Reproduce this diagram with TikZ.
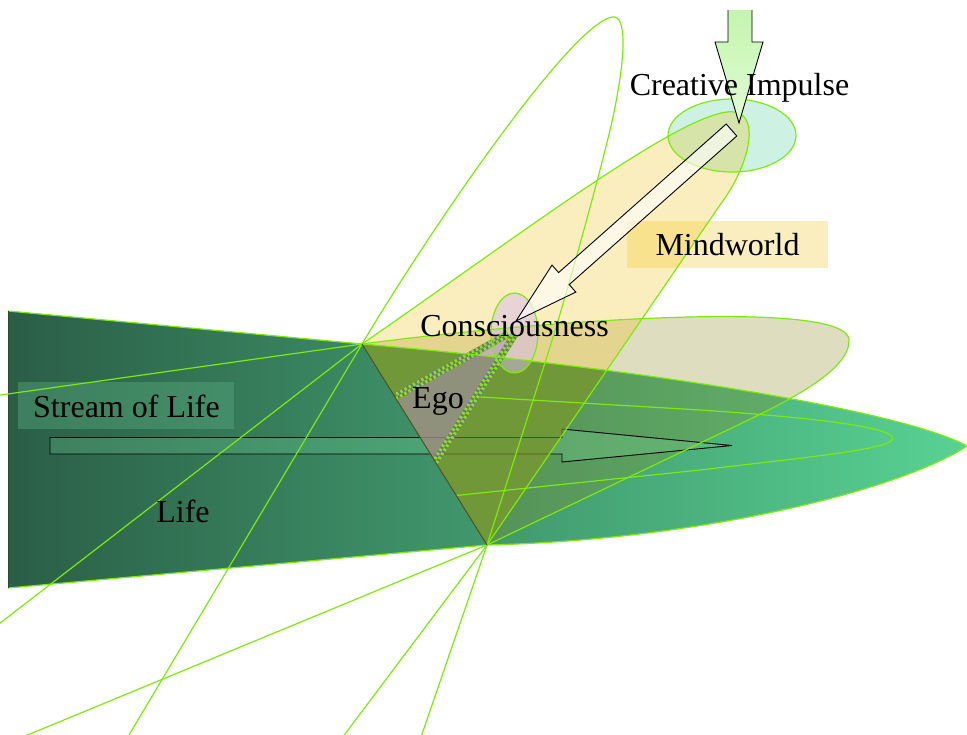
\documentclass[tikz,border=0pt]{standalone}
\usepackage{fontspec}
\setmainfont{Liberation Serif}
\newfontfamily\serf{Liberation Serif}
\definecolor{chart}{RGB}{125,235,10}
\definecolor{gdark}{RGB}{42,94,70}
\definecolor{glight}{RGB}{88,210,148}
\definecolor{gedge}{RGB}{35,75,55}
\definecolor{beigeC}{RGB}{141,134,30}
\definecolor{goldC}{RGB}{240,190,5}
\definecolor{oliveC}{RGB}{112,152,56}
\definecolor{aquaC}{RGB}{205,242,228}
\definecolor{lavC}{RGB}{213,186,240}
\definecolor{egoC}{RGB}{175,140,195}
\definecolor{egoLine}{RGB}{125,110,135}
\definecolor{darkol}{RGB}{85,80,25}
\definecolor{streamC}{RGB}{120,220,160}
\definecolor{streamBox}{RGB}{90,175,130}
\definecolor{dtop}{RGB}{195,245,175}
\definecolor{dbot}{RGB}{225,252,212}
\begin{document}
\begin{tikzpicture}[x=1pt,y=-1pt,
  cl/.style={draw=chart,line width=1.2pt},
  blk/.style={draw=black,line width=0.9pt},
  txt/.style={anchor=base,inner sep=0pt,font=\serf\fontsize{32}{38}\selectfont},
  dotline/.style={draw=chart,line width=3.2pt,dash pattern=on 2.4pt off 2.4pt}]
\useasboundingbox (0,0) rectangle (967,734);
\clip (0,0) rectangle (967,734);
\coordinate (P1) at (362,344);
\coordinate (P2) at (487,545);
\coordinate (GT) at (967,446);
\coordinate (BT) at (849,340);
\coordinate (BL) at (740,424);
\coordinate (YT) at (735,112);
\coordinate (YR) at (720,205);
% green life shape
\shade[left color=gdark,right color=glight] (8,311) -- (P1) .. controls (640,368) and (900,410) .. (GT) .. controls (900,490) and (700,540) .. (P2) -- (8,588) -- cycle;
% beige shape
\fill[beigeC,fill opacity=.28] (P1) .. controls (560,318) and (848,300) .. (BT) .. controls (850,370) and (790,400) .. (BL) -- (P2) -- cycle;
% stream of life arrow
\filldraw[fill=streamC,fill opacity=.25,blk] (50,437.5) -- (562,437.5) -- (562,429) -- (732,445.5) -- (562,462) -- (562,454) -- (50,454) -- cycle;
% creative impulse ellipse
\fill[aquaC] (732,135.5) ellipse [x radius=64pt,y radius=36.5pt];
% yellow mindworld shape
\fill[goldC,fill opacity=.26] (P1) .. controls (520,235) and (690,105) .. (YT) .. controls (760,116) and (750,165) .. (YR) -- (P2) -- cycle;
% olive overlap of mindworld and life
\begin{scope}
\clip (8,311) -- (P1) .. controls (640,368) and (900,410) .. (GT) .. controls (900,490) and (700,540) .. (P2) -- (8,588) -- cycle;
\clip (P1) .. controls (520,235) and (690,105) .. (YT) .. controls (760,116) and (750,165) .. (YR) -- (P2) -- cycle;
\fill[oliveC] (0,0) rectangle (967,734);
\draw[darkol,line width=0.9pt] (50,437.5) -- (562,437.5) -- (562,429) -- (732,445.5) -- (562,462) -- (562,454) -- (50,454) -- cycle;
\end{scope}
% label boxes
\fill[goldC,fill opacity=.26] (627,221) rectangle (828,268);
\fill[streamBox,fill opacity=.4] (18,382) rectangle (234,429);
% consciousness ellipse
\fill[lavC,fill opacity=.5] (514.5,333) ellipse [x radius=23.5pt,y radius=40pt];
% inner thin curve
\draw[cl] (472,396.5) -- (700,410) .. controls (820,418) and (900,428) .. (892,440) .. controls (885,450) and (800,458) .. (700,470) -- (456,495.5);
% ego region
\fill[egoC,fill opacity=.5] (395,397) -- (508,334) -- (515,334) -- (435,462) -- cycle;
\draw[egoLine,line width=7pt] (395,397) -- (508,334);
\draw[egoLine,line width=7pt] (435,462) -- (515,334);
\draw[dotline] (395.9,398.6) -- (508.9,335.6);
\draw[dotline,dash phase=2.4pt] (394.1,395.4) -- (507.1,332.4);
\draw[dotline] (436.5,463) -- (516.5,335);
\draw[dotline,dash phase=2.4pt] (433.5,461) -- (513.5,333);
% chartreuse outlines
\draw[cl] (126,740) -- (P1) .. controls (430,230) and (570,25) .. (612,17) .. controls (628,14) and (625,60) .. (613,117) .. controls (605,155) and (568,290) .. (550,347) -- (P2) -- (420,740);
\draw[cl] (8,311) -- (P1) .. controls (640,368) and (900,410) .. (GT) .. controls (900,490) and (700,540) .. (P2) -- (8,588);
\draw[gedge,line width=1pt] (8,311) -- (8,588);
\draw[cl] (P1) .. controls (560,318) and (848,300) .. (BT) .. controls (850,370) and (790,400) .. (BL) -- (P2);
\draw[cl] (P1) .. controls (520,235) and (690,105) .. (YT) .. controls (760,116) and (750,165) .. (YR) -- (P2);
\draw[cl] (P1) -- (-5,395.8);
\draw[cl] (P1) -- (-5,627);
\draw[cl] (P2) -- (15.5,740);
\draw[cl] (P2) -- (340.5,740);
\draw[cl] (732,135.5) ellipse [x radius=64pt,y radius=36.5pt];
\draw[cl] (514.5,333) ellipse [x radius=23.5pt,y radius=40pt];
\draw[darkol,line width=1pt] (P1) -- (P2);
% arrow from creative impulse to consciousness
\filldraw[fill=white,fill opacity=.6,blk] (726.2,124) -- (558.6,272.6) -- (552,265.1) -- (516,321) -- (575.8,292.1) -- (569.2,284.6) -- (736.8,136) -- cycle;
% descending arrow
\shade[top color=dtop,bottom color=dbot] (728,10) -- (728,42) -- (715,42) -- (739,123) -- (763,42) -- (752,42) -- (752,10) -- cycle;
\draw[blk] (728,10) -- (728,42) -- (715,42) -- (739,123) -- (763,42) -- (752,42) -- (752,10);
% labels
\node[txt] (ci) at (739.5,95) {Creative Impulse};
\node[txt] (mw) at (727.5,255) {Mindworld};
\node[txt] (co) at (514.5,336) {Consciousness};
\node[txt] (eg) at (438,408) {Ego};
\node[txt] (sl) at (126.5,417) {Stream of Life};
\node[txt] (li) at (183,522) {Life};
\end{tikzpicture}
\end{document}
